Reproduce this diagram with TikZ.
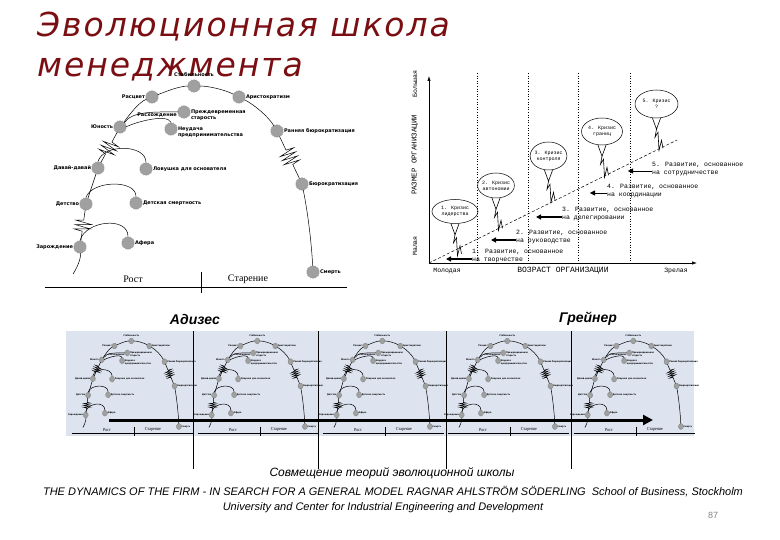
\documentclass[tikz,border=0pt]{standalone}
\usepackage{fontspec}
\setmainfont{Liberation Serif}
\newfontfamily\lblfont{DejaVu Sans}
\newfontfamily\grfont{Liberation Mono}
\newfontfamily\capfont{Liberation Sans}
\newfontfamily\ttlfont[LetterSpace=6]{DejaVu Sans}
\usetikzlibrary{arrows.meta,positioning,shapes.geometric,decorations.pathmorphing}

\definecolor{titlered}{RGB}{122,14,18}
\definecolor{bandblue}{RGB}{221,228,240}
\definecolor{stagegray}{RGB}{160,160,160}

\newcommand\zsc{1}
% кривая Адизеса в пиксельных координатах
\newcommand\adizes{%
  \node[stage, label={[lbl]left:Зарождение}] (zar) at (80,247) {};
  \node[stage, label={[lbl]left:Детство}] (det) at (86,204) {};
  \node[stage, label={[lbl]left:Давай-давай}] (dav) at (98,168) {};
  \node[stage, label={[lbl]left:Юность}] (yun) at (120,127) {};
  \node[stage, label={[lbl]left:Расцвет}] (ras) at (152,97) {};
  \node[stage, label={[lbl, label distance=2pt]above:Стабильность}] (stb) at (194,86) {};
  \node[stage, label={[lbl]right:Аристократизм}] (ari) at (239,97) {};
  \node[stage, label={[lbl]right:Ранняя бюрократизация}] (rbu) at (277,131) {};
  \node[stage, label={[lbl]right:Бюрократизация}] (bur) at (302,184) {};
  \node[stage, label={[lbl]right:Смерть}] (smr) at (313,272) {};
  \node[stage, label={[lbl]right:Афера}] (afr) at (128,243) {};
  \node[stage, label={[lbl]right:Детская смертность}] (dsm) at (136,203) {};
  \node[stage, label={[lbl]right:Ловушка для основателя}] (lov) at (146,169) {};
  \node[stage, label={[lbl, yshift=-3.5pt]right:Неудача\\предпринимательства}] (neu) at (171,129) {};
  \node[stage, label={[lbl, yshift=-3pt]right:Преждевременная\\старость}] (prs) at (184,112) {};
  \node[lbl] (rsh) at (157,115.5) {Расхождение};
  \coordinate (zs) at (73,274);
  \draw[curve] (zs) .. controls +(6,-9) and +(1,9) .. (zar);
  \draw[curve, zz] (zar) -- (det);
  \draw[curve] (det) -- (dav);
  \draw[curve, zz] (dav) -- (yun);
  \draw[curve] (yun) .. controls +(9,-11.5) and +(-13.7,5.4) .. (ras);
  \draw[curve] (ras) .. controls +(13.5,-5.4) and +(-14.5,0) .. (stb);
  \draw[curve] (stb) .. controls +(15.4,0) and +(-13.7,-6.9) .. (ari);
  \draw[curve] (ari) .. controls +(15.1,7.6) and +(-8.7,-14.6) .. (rbu);
  \draw[curve, zz=15] (rbu) -- (bur);
  \draw[curve] (bur) .. controls +(5.8,28) and +(-1.5,-29) .. (smr);
  \draw[curve] (zar.north) .. controls +(6,-20) and +(0,-20) .. (afr.north);
  \draw[curve] (det.north) .. controls +(6,-17) and +(0,-17) .. (dsm.north);
  \draw[curve] (dav.north) .. controls +(6,-18) and +(0,-18) .. (lov.north);
  \draw[curve] (yun.east) .. controls +(10,-5) and +(-4,-9) .. (neu.north);
  \draw[curve] (yun.north east) .. controls +(8,-12) and +(-22,0) .. (prs.west);
  \node[phase] (rost) at (133,279) {Рост};
  \node[phase] (old) at (248,279) {Старение};
  \coordinate (bl) at (45,287.5);
  \coordinate (br) at (347,287.5);
  \coordinate (tt) at (201,272);
  \coordinate (tb) at (201,293);
  \draw[base] (bl) -- (br);
  \draw[base] (tt) -- (tb);
}
% хвост кризиса
\newcommand\crtail[1]{%
  \draw[tail] ([xshift=-4pt]#1.south) -- ([yshift=-11pt]#1.south) -- ([xshift=4pt]#1.south);
  \draw[tail] ([yshift=-11pt]#1.south) -- ++(-1.5,8) -- ++(3,-5) -- ++(1,18) -- ++(2.5,-10) -- ++(1.5,8);
}

\begin{document}
\begin{tikzpicture}[
  x=1pt, y=-1pt,
  stage/.style={star, star points=18, star point ratio=1.15, minimum size=13pt, inner sep=0pt, fill=stagegray, draw=black!45, line width=.25pt},
  lbl/.style={font=\lblfont\bfseries\fontsize{5}{6}\selectfont, inner sep=1pt, align=left},
  curve/.style={line width=.5pt},
  zz/.style={decorate, decoration={zigzag, segment length=4.5pt*\zsc, amplitude=8pt*\zsc, pre length=#1pt*\zsc, post length=#1pt*\zsc}},
  zz/.default=10,
  phase/.style={font=\fontsize{10}{12}\selectfont, inner sep=0pt},
  base/.style={line width=1pt},
  crisis/.style={ellipse, draw, line width=.5pt, inner sep=-1pt, align=center, font=\grfont\fontsize{5}{6}\selectfont},
  gtxt/.style={font=\grfont\fontsize{6.5}{8}\selectfont, align=left, inner sep=0pt},
  gaxis/.style={font=\grfont\fontsize{6.5}{8}\selectfont, inner sep=0pt},
  garr/.style={-{Triangle[length=5pt,width=5pt]}, line width=1.8pt},
  tail/.style={line width=.6pt}
]
\useasboundingbox (0,0) rectangle (780,540);

\node[anchor=base west, inner sep=0pt, text=titlered, font=\ttlfont\itshape\fontsize{33}{36}\selectfont] (ttl1) at (37,37) {Эволюционная школа};
\node[anchor=base west, inner sep=0pt, text=titlered, font=\ttlfont\itshape\fontsize{33}{36}\selectfont] (ttl2) at (37,77) {менеджмента};

\begin{scope}[name prefix=a-]
  \adizes
\end{scope}

% Грейнер
\coordinate (go) at (429,263);
\coordinate (gx) at (697,263);
\coordinate (gy) at (429,76);
\coordinate (gd) at (677,140);
\foreach \x in {477,528,578,630} \draw[dotted, line width=.6pt] (\x,73) -- (\x,263);
\draw[line width=.7pt, -{Latex[length=5pt,width=3.5pt]}] (go) -- (gx);
\draw[line width=.7pt, -{Latex[length=5pt,width=3.5pt]}] (go) -- (gy);
\draw[line width=.5pt, dash pattern=on 3pt off 2pt] (go) -- (gd);

\node[crisis, minimum width=46pt, minimum height=24pt] (e1) at (455,211.5) {1. Кризис\\лидерства};
\node[crisis, minimum width=33pt, minimum height=25pt] (e2) at (496,185.5) {2. Кризис\\автономии};
\node[crisis, minimum width=36pt, minimum height=28pt] (e3) at (548.5,156) {3. Кризис\\контроля};
\node[crisis, minimum width=41pt, minimum height=27pt] (e4) at (602,131.5) {4. Кризис\\границ};
\node[crisis, minimum width=43pt, minimum height=28pt] (e5) at (656.5,104) {5. Кризис\\?};
\crtail{e1}
\crtail{e2}
\crtail{e3}
\crtail{e4}
\crtail{e5}

\node[gtxt, anchor=west] (d1) at (472,256) {1. Развитие, основанное\\на творчестве};
\node[gtxt, anchor=west] (d2) at (516,237.5) {2. Развитие, основанное\\на руководстве};
\node[gtxt, anchor=west] (d3) at (562,214.5) {3. Развитие, основанное\\на делегировании};
\node[gtxt, anchor=west] (d4) at (607,191) {4. Развитие, основанное\\на координации};
\node[gtxt, anchor=west] (d5) at (652,169) {5. Развитие, основанное\\на сотрудничестве};
\coordinate (p1) at (446,259);
\coordinate (p2) at (491,240);
\coordinate (p3) at (536,217);
\coordinate (p4) at (590,193);
\coordinate (p5) at (628,171);
\draw[garr] (d1.west |- p1) -- (p1);
\draw[garr] (d2.west |- p2) -- (p2);
\draw[garr] (d3.west |- p3) -- (p3);
\draw[garr, line width=.4pt] (d4.west |- p4) -- (p4);
\draw[garr, line width=.4pt] (d5.west |- p5) -- (p5);

\node[gaxis, rotate=90] (gmal) at (415,246) {Малая};
\node[gaxis, rotate=90, font=\grfont\fontsize{7.4}{8}\selectfont] (grazm) at (415,155) {РАЗМЕР ОРГАНИЗАЦИИ};
\node[gaxis, rotate=90] (gbol) at (415,84) {Большая};
\node[gaxis] (gmol) at (447,271) {Молодая};
\node[gaxis, font=\grfont\fontsize{8}{9}\selectfont] (gvoz) at (563,271) {ВОЗРАСТ ОРГАНИЗАЦИИ};
\node[gaxis] (gzr) at (676,271) {Зрелая};

% совмещение
\fill[bandblue] (66,331) rectangle (694,436);
\foreach \i/\dx in {1/0,2/126,3/251,4/376,5/502} {
  \begin{scope}[name prefix=m\i-, shift={(53.7+\dx,301.4)}, xscale=0.4, yscale=0.46, transform shape]
    \def\zsc{0.43}
    \adizes
  \end{scope}
}
\coordinate (as) at (109,420);
\coordinate (ae) at (653,420);
\draw[line width=3pt, -{Triangle[length=10pt,width=10pt]}] (as) -- (ae);
\foreach \x in {193,318.5,446,571} \draw[line width=.8pt] (\x,331) -- (\x,469);
\node[font=\capfont\bfseries\itshape\fontsize{14}{16}\selectfont] (adz) at (195,319) {Адизес};
\node[font=\capfont\bfseries\itshape\fontsize{14}{16}\selectfont] (grn) at (588,319) {Грейнер};

\node[font=\capfont\itshape\fontsize{12}{14}\selectfont] (cap) at (392,473) {Совмещение теорий эволюционной школы};
\node[font=\capfont\itshape\fontsize{11}{13}\selectfont] (src1) at (393,492) {THE DYNAMICS OF THE FIRM - IN SEARCH FOR A GENERAL MODEL RAGNAR AHLSTRÖM SÖDERLING\ \ School of Business, Stockholm};
\node[font=\capfont\itshape\fontsize{11}{13}\selectfont] (src2) at (383,508) {University and Center for Industrial Engineering and Development};
\node[font=\capfont\fontsize{9}{11}\selectfont, text=gray] (pg) at (713,515) {87};
\end{tikzpicture}
\end{document}
